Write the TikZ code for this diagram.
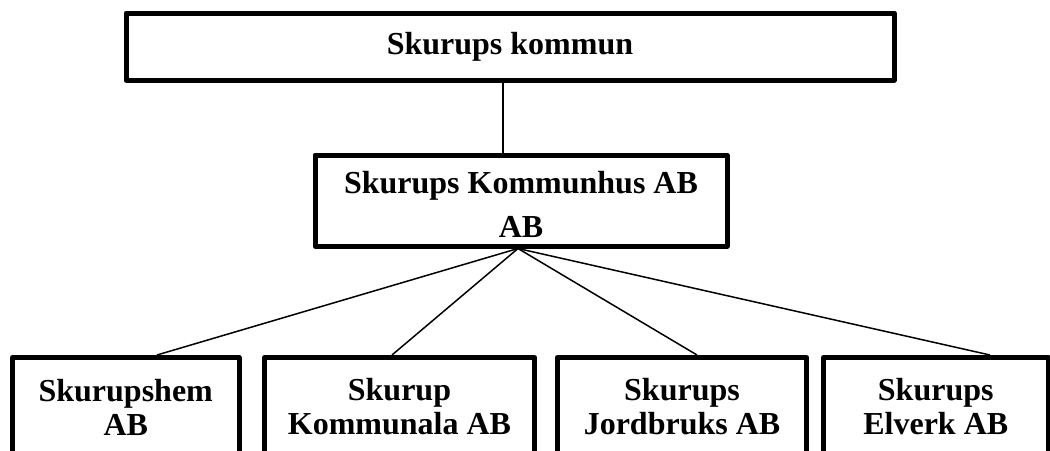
\documentclass[tikz,border=0pt]{standalone}
\usepackage{fontspec}
\setmainfont{Liberation Serif}
\usetikzlibrary{calc}

\begin{document}
\begin{tikzpicture}[x=0.5pt,y=-0.5pt,
    box/.style={draw,line width=2.5pt,line join=round,inner sep=0pt,
      align=center,font=\bfseries\fontsize{16}{17}\selectfont},
    link/.style={line width=0.75pt}]
  % Constants
  \pgfmathsetmacro\ylow{407}
  \pgfmathsetmacro\hlow{49.5}
  % Boundary
  \path[use as bounding box] (0,0) rectangle (1050,450);
  \clip (0,0) rectangle (1050,450);
  % Owner boxes
  \node[box,minimum width=384pt,minimum height=33.5pt] (kommun) at (510,46.5) {Skurups kommun};
  \node[box,minimum width=206pt,minimum height=45.5pt] (holding) at (521,200.5) {\rule{0pt}{15.5pt}Skurups Kommunhus AB\\[5pt]AB};
  % Company boxes
  \node[box,minimum width=113.25pt,minimum height=\hlow pt] (hem) at (125.75,\ylow) {Skurupshem\\AB};
  \node[box,minimum width=135pt,minimum height=\hlow pt] (kommunala) at (399.5,\ylow) {Skurup\\Kommunala AB};
  \node[box,minimum width=124.5pt,minimum height=\hlow pt] (jordbruk) at (682,\ylow) {Skurups\\Jordbruks AB};
  \node[box,minimum width=112.25pt,minimum height=\hlow pt] (elverk) at (935.75,\ylow) {Skurups\\Elverk AB};
  % Lines
  \draw[link] ([xshift=-3.5pt]kommun.south) -- ([xshift=-9pt]holding.north);
  \draw[link] ([xshift=-1.5pt]holding.south) -- ([xshift=15.6pt]hem.north);
  \draw[link] ([xshift=-1.5pt]holding.south) -- ([xshift=-3.75pt]kommunala.north);
  \draw[link] ([xshift=-1.5pt]holding.south) -- ([xshift=7.5pt]jordbruk.north);
  \draw[link] ([xshift=-1.5pt]holding.south) -- ([xshift=27.1pt]elverk.north);
\end{tikzpicture}
\end{document}
